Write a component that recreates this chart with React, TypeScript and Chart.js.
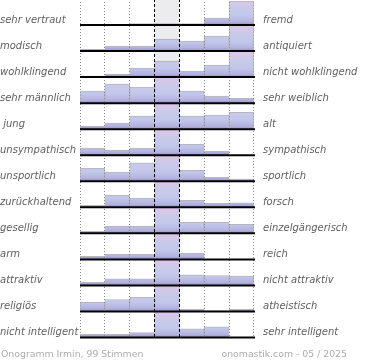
import React, { useEffect, useRef } from "react";
import { Chart, registerables } from "chart.js";

Chart.register(...registerables);

// 7 answer columns of the semantic differential
const columns = ["1", "2", "3", "4", "5", "6", "7"];

const leftLabels = [
  "sehr vertraut",
  "modisch",
  "wohlklingend",
  "sehr männlich",
  " jung",
  "unsympathisch",
  "unsportlich",
  "zurückhaltend",
  "gesellig",
  "arm",
  "attraktiv",
  "religiös",
  "nicht intelligent",
];

const rightLabels = [
  "fremd",
  "antiquiert",
  "nicht wohlklingend",
  "sehr weiblich",
  "alt",
  "sympathisch",
  "sportlich",
  "forsch",
  "einzelgängerisch",
  "reich",
  "nicht attraktiv",
  "atheistisch",
  "sehr intelligent",
];

// bar heights in % of the row height (100 = full row, clipped)
const rowVertraut = [0, 0, 6, 6, 6, 27, 92];
const rowModisch = [7, 19, 19, 46, 38, 58, 100];
const rowWohlklingend = [4, 12, 35, 62, 23, 46, 100];
const rowMaennlich = [46, 73, 62, 100, 46, 27, 19];
const rowJung = [12, 23, 50, 100, 50, 54, 65];
const rowUnsympathisch = [27, 19, 27, 100, 42, 15, 0];
const rowUnsportlich = [50, 35, 71, 100, 42, 15, 8];
const rowZurueckhaltend = [8, 46, 35, 100, 27, 15, 17];
const rowGesellig = [8, 27, 27, 100, 42, 42, 35];
const rowArm = [12, 19, 19, 100, 23, 0, 0];
const rowAttraktiv = [12, 25, 25, 100, 41, 38, 36];
const rowReligioes = [35, 46, 54, 100, 8, 2, 8];
const rowIntelligent = [12, 12, 19, 100, 33, 41, 0];

const rowValues = [
  rowVertraut,
  rowModisch,
  rowWohlklingend,
  rowMaennlich,
  rowJung,
  rowUnsympathisch,
  rowUnsportlich,
  rowZurueckhaltend,
  rowGesellig,
  rowArm,
  rowAttraktiv,
  rowReligioes,
  rowIntelligent,
];

const footerLeft = "Onogramm Irmin, 99 Stimmen";
const footerRight = "onomastik.com - 05 / 2025";

const ROW_MAX = 100;
const N = rowValues.length;
const rowBase = (r: number) => (N - 1 - r) * ROW_MAX;

function columnBounds(x: any): number[] {
  const c0 = x.getPixelForValue(0);
  const c1 = x.getPixelForValue(1);
  const w = c1 - c0;
  const out: number[] = [];
  for (let k = 0; k <= columns.length; k++) out.push(c0 - w / 2 + k * w);
  return out;
}

const framePlugin = {
  id: "frame",
  beforeDatasetsDraw(chart: any) {
    const { ctx, chartArea: a, scales } = chart;
    const b = columnBounds(scales.x);
    ctx.save();
    ctx.fillStyle = "#ececee";
    ctx.fillRect(b[3], a.top, b[4] - b[3], a.bottom - a.top);
    ctx.strokeStyle = "#8a8a8a";
    ctx.lineWidth = 1;
    ctx.setLineDash([1, 2]);
    [0, 1, 2, 5, 6, 7].forEach((k) => {
      const px = Math.floor(b[k]) + 0.5;
      ctx.beginPath();
      ctx.moveTo(px, a.top);
      ctx.lineTo(px, a.bottom);
      ctx.stroke();
    });
    ctx.restore();
  },
  afterDatasetsDraw(chart: any) {
    const { ctx, chartArea: a, scales } = chart;
    const b = columnBounds(scales.x);
    const y = scales.y;
    ctx.save();
    ctx.strokeStyle = "#000";
    ctx.lineWidth = 1;
    ctx.setLineDash([3, 2]);
    [3, 4].forEach((k) => {
      const px = Math.floor(b[k]) + 0.5;
      ctx.beginPath();
      ctx.moveTo(px, a.top);
      ctx.lineTo(px, a.bottom);
      ctx.stroke();
    });
    ctx.setLineDash([]);
    ctx.lineWidth = 2;
    for (let r = 0; r < N; r++) {
      const py = y.getPixelForValue(rowBase(r));
      ctx.beginPath();
      ctx.moveTo(b[0], py);
      ctx.lineTo(b[columns.length] + 1, py);
      ctx.stroke();
    }
    ctx.restore();
  },
};

function rowGradient(ctx: any) {
  const chart = ctx.chart;
  const area = chart.chartArea;
  if (!area || !chart.scales.y) return "#c3c8ea";
  const y = chart.scales.y;
  const base = rowBase(ctx.datasetIndex);
  const y0 = y.getPixelForValue(base);
  const y1 = y.getPixelForValue(base + ROW_MAX);
  const g = chart.ctx.createLinearGradient(0, y0, 0, y1);
  g.addColorStop(0, "#958cc6");
  g.addColorStop(0.12, "#b4b3df");
  g.addColorStop(0.35, "#c2c7ea");
  g.addColorStop(0.65, "#c8caea");
  g.addColorStop(1, "#e0c6e7");
  return g;
}

const labelFont = { family: '"DejaVu Sans", sans-serif', size: 10, style: "italic" as const };

export default function App() {
  const ref = useRef<HTMLCanvasElement | null>(null);

  useEffect(() => {
    if (!ref.current) return;
    const datasets = rowValues.map((vals, r) => ({
      label: leftLabels[r],
      data: vals.map((v) =>
        v > 0 ? [rowBase(r), rowBase(r) + Math.min(v, ROW_MAX)] : null
      ),
      backgroundColor: rowGradient,
      borderColor: "rgba(135,135,150,0.6)",
      borderWidth: { top: 1, right: 1, left: 1, bottom: 0 },
      borderSkipped: false,
      categoryPercentage: 1,
      barPercentage: 1,
      grouped: false,
    }));

    const chart = new Chart(ref.current, {
      type: "bar",
      data: { labels: columns, datasets: datasets as any },
      options: {
        animation: false,
        responsive: false,
        devicePixelRatio: 1,
        layout: { padding: { top: 0, bottom: 22.5, left: 0, right: 0 } },
        plugins: { legend: { display: false }, tooltip: { enabled: false } },
        scales: {
          x: { type: "category", display: false, offset: true },
          y: { type: "linear", display: false, min: 0, max: N * ROW_MAX },
          yl: {
            type: "category",
            position: "left",
            labels: leftLabels,
            offset: true,
            grid: { display: false, drawTicks: false },
            border: { display: false },
            ticks: {
              autoSkip: false,
              crossAlign: "far",
              labelOffset: 8,
              padding: 0,
              color: "#606060",
              font: labelFont,
            },
            afterFit: (s: any) => {
              s.width = 80;
              s.paddingTop = 0;
              s.paddingBottom = 0;
            },
          },
          yr: {
            type: "category",
            position: "right",
            labels: rightLabels,
            offset: true,
            grid: { display: false, drawTicks: false },
            border: { display: false },
            ticks: {
              autoSkip: false,
              labelOffset: 8,
              padding: 9,
              color: "#606060",
              font: labelFont,
            },
            afterFit: (s: any) => {
              s.width = 116;
              s.paddingTop = 0;
              s.paddingBottom = 0;
            },
          },
        } as any,
      },
      plugins: [framePlugin],
    });
    return () => chart.destroy();
  }, []);

  const footStyle: React.CSSProperties = {
    position: "absolute",
    top: 348,
    font: '9.33px "DejaVu Sans", sans-serif',
    lineHeight: "12px",
    color: "#acacac",
    whiteSpace: "nowrap",
  };

  return (
    <div
      style={{
        position: "fixed",
        left: 0,
        top: 0,
        width: 370,
        height: 360,
        overflow: "hidden",
        background: "#fff",
      }}
    >
      <canvas
        ref={ref}
        width={370}
        height={361}
        style={{ position: "absolute", left: 0, top: -1, width: 370, height: 361 }}
      />
      <div style={{ ...footStyle, left: 1 }}>{footerLeft}</div>
      <div style={{ ...footStyle, right: 23, textAlign: "right" }}>{footerRight}</div>
    </div>
  );
}
